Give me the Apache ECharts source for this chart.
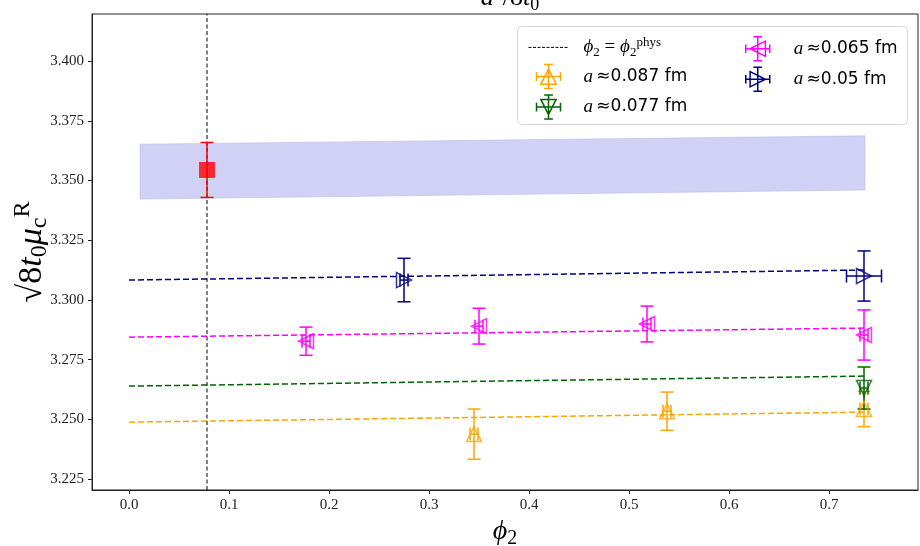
<!DOCTYPE html>
<html>
<head>
<meta charset="utf-8">
<script src="https://cdn.jsdelivr.net/npm/echarts@6/dist/echarts.min.js"></script>
<style>html,body{margin:0;padding:0;background:#fff}#main{width:920px;height:546px}</style>
</head>
<body>
<div id="main"></div>
<script>
// axis ranges and ticks
const xMin = -0.037, xMax = 0.789;
const yMin = 3.2204, yMax = 3.4197;
const xTicks = [0, 0.1, 0.2, 0.3, 0.4, 0.5, 0.6, 0.7];
const yTicks = [3.225, 3.25, 3.275, 3.3, 3.325, 3.35, 3.375, 3.4];

// physical point
const phiPhys = 0.078;
const physVal = 3.3544, physErr = 0.0115;

// continuum band
const bandX = [0.011, 0.736];
const bandLow = [3.3422, 3.3460];
const bandHigh = [3.3652, 3.3687];

// fit lines (phi2 = 0 ... 0.735)
const fitX = [0, 0.735];
const fit087 = [3.2488, 3.2530];
const fit077 = [3.2639, 3.2681];
const fit065 = [3.2844, 3.2882];
const fit05 = [3.3083, 3.3125];

// lattice data
const a087X = [0.345, 0.538, 0.735];
const a087Y = [3.2438, 3.2534, 3.2543];
const a087Xerr = [0.004, 0.004, 0.004];
const a087Yerr = [0.0105, 0.0080, 0.0074];

const a077X = [0.735];
const a077Y = [3.2631];
const a077Xerr = [0.004];
const a077Yerr = [0.0088];

const a065X = [0.177, 0.350, 0.518, 0.735];
const a065Y = [3.2827, 3.2890, 3.2899, 3.2853];
const a065Xerr = [0.004, 0.004, 0.004, 0.004];
const a065Yerr = [0.0059, 0.0075, 0.0075, 0.0105];

const a05X = [0.275, 0.735];
const a05Y = [3.3083, 3.3100];
const a05Xerr = [0.004, 0.0175];
const a05Yerr = [0.0091, 0.0105];

const serif = 'Liberation Serif';
const cross = ' M12,1 L12,23 M8,1 L16,1 M8,23 L16,23 M1,12 L23,12 M1,8 L1,16 M23,8 L23,16';

const groups = [
  {name: 'a087', color: '#ffa500', x: a087X, y: a087Y, xe: a087Xerr, ye: a087Yerr, fit: fit087,
   sym: 'path://M5,0 L10,10 L0,10 Z', icon: 'path://M12,5 L19,19 L5,19 Z' + cross},
  {name: 'a077', color: '#006400', x: a077X, y: a077Y, xe: a077Xerr, ye: a077Yerr, fit: fit077,
   sym: 'path://M0,0 L10,0 L5,10 Z', icon: 'path://M5,5 L19,5 L12,19 Z' + cross},
  {name: 'a065', color: '#ff00ff', x: a065X, y: a065Y, xe: a065Xerr, ye: a065Yerr, fit: fit065,
   sym: 'path://M0,5 L10,0 L10,10 Z', icon: 'path://M5,12 L19,5 L19,19 Z' + cross},
  {name: 'a05', color: '#000080', x: a05X, y: a05Y, xe: a05Xerr, ye: a05Yerr, fit: fit05,
   sym: 'path://M0,0 L10,5 L0,10 Z', icon: 'path://M5,5 L19,12 L5,19 Z' + cross}
];

function errorBarItem(color) {
  return function (params, api) {
    const x = api.value(0), y = api.value(1), xe = api.value(2), ye = api.value(3);
    const top = api.coord([x, y + ye]), bot = api.coord([x, y - ye]);
    const lft = api.coord([x - xe, y]), rgt = api.coord([x + xe, y]);
    const c = 6.5;
    const st = {stroke: color, lineWidth: 1.5};
    const seg = (x1, y1, x2, y2) => ({type: 'line', shape: {x1, y1, x2, y2}, style: st});
    const parts = [
      seg(top[0], top[1], bot[0], bot[1]),
      seg(top[0] - c, top[1], top[0] + c, top[1]),
      seg(bot[0] - c, bot[1], bot[0] + c, bot[1])
    ];
    if (xe > 0) {
      parts.push(seg(lft[0], lft[1], rgt[0], rgt[1]),
        seg(lft[0], lft[1] - c, lft[0], lft[1] + c),
        seg(rgt[0], rgt[1] - c, rgt[0], rgt[1] + c));
    }
    return {type: 'group', children: parts};
  };
}

const series = [];
series.push({
  type: 'custom', name: 'band', silent: true, z: 1,
  data: bandX.map((x, i) => [x, bandLow[i], bandHigh[i]]),
  renderItem: function (params, api) {
    if (params.dataIndex !== 0) return;
    const pts = [];
    bandX.forEach((x, i) => pts.push(api.coord([x, bandHigh[i]])));
    for (let i = bandX.length - 1; i >= 0; i--) pts.push(api.coord([bandX[i], bandLow[i]]));
    return {type: 'polygon', shape: {points: pts},
      style: {fill: 'rgba(140,140,230,0.4)', stroke: 'rgba(180,180,240,0.5)', lineWidth: 1}};
  }
});

groups.forEach(g => {
  series.push({
    type: 'line', name: g.name, z: 2, symbol: 'none',
    data: fitX.map((x, i) => [x, g.fit[i]]),
    lineStyle: {color: g.color, width: 1.5, type: [6, 3]}
  });
  series.push({
    type: 'custom', name: g.name, z: 3,
    data: g.x.map((x, i) => [x, g.y[i], g.xe[i], g.ye[i]]),
    renderItem: errorBarItem(g.color)
  });
  series.push({
    type: 'scatter', name: g.name, z: 4,
    data: g.x.map((x, i) => [x, g.y[i]]),
    symbol: g.sym, symbolSize: 15, symbolKeepAspect: true,
    itemStyle: {color: 'rgba(0,0,0,0)', borderColor: g.color, borderWidth: 1.5}
  });
});

series.push({
  type: 'line', name: 'phys', z: 5, symbol: 'none',
  data: [[phiPhys, yMin], [phiPhys, yMax]],
  lineStyle: {color: '#000', width: 1, type: [4, 2.5]}
});
series.push({
  type: 'custom', name: 'physErr', z: 6,
  data: [[phiPhys, physVal, 0, physErr]],
  renderItem: errorBarItem('#ff0000')
});
series.push({
  type: 'scatter', name: 'physPt', z: 7,
  data: [[phiPhys, physVal]],
  symbol: 'rect', symbolSize: 16,
  itemStyle: {color: '#ff0000'}
});

const mathRich = (size, pad) => ({
  i: {fontFamily: serif, fontStyle: 'italic', fontWeight: 'normal', fontSize: size, lineHeight: size * 1.2, color: '#000', padding: [0, 0, 0, pad || 0]},
  j: {fontFamily: serif, fontStyle: 'italic', fontWeight: 'normal', fontSize: size, lineHeight: size * 1.2, color: '#000'},
  n: {fontFamily: serif, fontWeight: 'normal', fontSize: size, lineHeight: size * 1.2, color: '#000'},
  b: {fontFamily: serif, fontWeight: 'normal', fontSize: Math.round(size * 0.7), lineHeight: Math.round(size * 0.7), verticalAlign: 'bottom', color: '#000'},
  p: {fontFamily: serif, fontWeight: 'normal', fontSize: Math.round(size * 0.7), lineHeight: Math.round(size * 0.7), verticalAlign: 'top', color: '#000'},
  t: {fontFamily: 'DejaVu Sans', fontWeight: 'normal', fontSize: 17, lineHeight: size * 1.2, color: '#000'}
});

const legendText = {
  phys: '{i|ϕ}{b|2}{n| = }{j|ϕ}{b|2}{p|phys}',
  a087: '{i|a} {t|≈0.087 fm}',
  a077: '{i|a} {t|≈0.077 fm}',
  a065: '{i|a} {t|≈0.065 fm}',
  a05: '{i|a} {t|≈0.05 fm}'
};
const legendItem = name => {
  const g = groups.find(d => d.name === name);
  return {name: name, icon: g.icon,
    itemStyle: {color: 'rgba(0,0,0,0)', borderColor: g.color, borderWidth: 1.5}};
};
const legendBase = {
  orient: 'vertical', top: 31, itemHeight: 24, itemGap: 5, selectedMode: false,
  formatter: name => legendText[name]
};

const option = {
  animation: false,
  backgroundColor: '#fff',
  title: {
    text: '{j|a}{p|2}{n|/8}{j|t}{b|0}',
    left: 505, top: -22, textAlign: 'center',
    textStyle: {fontWeight: 'normal', rich: mathRich(26)}
  },
  grid: {left: 92, right: 2, top: 14, bottom: 56, outerBoundsMode: 'none', containLabel: false,
    show: true, borderColor: '#222', borderWidth: 1},
  graphic: [{
    type: 'rect', left: 517, top: 26, z: 0,
    shape: {width: 390, height: 98, r: 4},
    style: {fill: 'rgba(255,255,255,0.8)', stroke: '#d8d8d8', lineWidth: 1}
  }],
  legend: [
    Object.assign({}, legendBase, {
      left: 523, itemWidth: 40,
      textStyle: {rich: mathRich(19, 10)},
      data: [
        {name: 'phys', itemStyle: {color: 'rgba(0,0,0,0)', borderWidth: 0, opacity: 0},
         lineStyle: {color: '#000', width: 1, type: [3, 1.5]}},
        legendItem('a087'), legendItem('a077')
      ]
    }),
    Object.assign({}, legendBase, {
      left: 740, itemWidth: 24,
      textStyle: {rich: mathRich(19, 19)},
      data: [legendItem('a065'), legendItem('a05')]
    })
  ],
  xAxis: {
    type: 'value', min: xMin, max: xMax,
    name: '{j|ϕ}{b|2}', nameLocation: 'middle', nameGap: 25,
    nameTextStyle: {rich: mathRich(28)},
    axisLine: {show: true, onZero: false, lineStyle: {color: '#222'}},
    axisTick: {show: true, length: 4, lineStyle: {color: '#222'}, customValues: xTicks},
    axisLabel: {customValues: xTicks, formatter: v => v.toFixed(1), fontFamily: serif, fontSize: 15, color: '#222', margin: 8},
    splitLine: {show: false}
  },
  yAxis: {
    type: 'value', min: yMin, max: yMax,
    name: '{n|√8}{j|t}{b|0}{j|μ}{b|c}{p|R}', nameLocation: 'middle', nameRotate: 90,
    nameGap: 40, nameMoveOverlap: false,
    nameTextStyle: {rich: mathRich(34)},
    axisLine: {show: true, onZero: false, lineStyle: {color: '#222'}},
    axisTick: {show: true, length: 4, lineStyle: {color: '#222'}, customValues: yTicks},
    axisLabel: {customValues: yTicks, formatter: v => v.toFixed(3), fontFamily: serif, fontSize: 15, color: '#222', margin: 8},
    splitLine: {show: false}
  },
  series: series
};

const chart = echarts.init(document.getElementById('main'));
chart.setOption(option);
</script>
</body>
</html>
